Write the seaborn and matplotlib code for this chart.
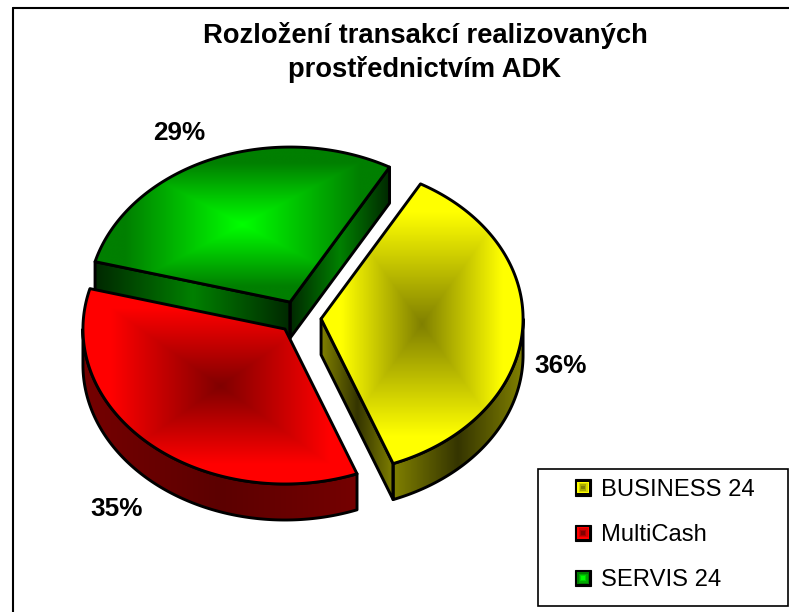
import numpy as np
import matplotlib
matplotlib.use("Agg")
import matplotlib.pyplot as plt
import seaborn as sns
from matplotlib.legend_handler import HandlerBase
from matplotlib.lines import Line2D
from matplotlib.patches import Polygon, Rectangle

# ---- data ----
categories = ["BUSINESS 24", "MultiCash", "SERVIS 24"]
shares = [36, 35, 29]
explode = [0.112, 0.10, 0.108]
title = "Rozložení transakcí realizovaných\nprostřednictvím ADK"

# ---- styles: (rim of top, centre of top, wall ends, wall middle) ----
top_edge = ["#ffff00", "#ff0000", "#007f00"]
top_mid = ["#808000", "#800000", "#00ff00"]
wall_end = ["#808000", "#750000", "#002800"]
wall_mid = ["#353500", "#5c0000", "#008000"]

W, H = 789, 612
CX, CY, RX, RY, DEPTH = 298.5, 317.5, 202.0, 155.0, 36.0

sns.set_theme(style="white")
plt.rcParams["font.family"] = ["Liberation Sans", "DejaVu Sans"]

fig = plt.figure(figsize=(W / 100, H / 100), dpi=100, facecolor="white")
ax = fig.add_axes([0, 0, 1, 1])
wedges, _ = ax.pie(shares, explode=explode, startangle=60.5, counterclock=False,
                   radius=1, center=(0, 0), colors=top_edge)
ax.set_aspect("auto")
xlim = (-CX / RX, (W - CX) / RX)
ylim = ((CY - H) / RY, CY / RY)
ax.set_xlim(xlim)
ax.set_ylim(ylim)
ax.axis("off")
d = DEPTH / RY


def px(x, y):
    return (x - CX) / RX, (CY - y) / RY


def arc_points(c, a, b, n=160):
    t = np.radians(np.linspace(a, b, n))
    return np.column_stack([c[0] + np.cos(t), c[1] + np.sin(t)])


def gradient(poly, img, cmap, z, clip_patch):
    x0, y0 = poly.min(axis=0)
    x1, y1 = poly.max(axis=0)
    im = ax.imshow(img, extent=(x0, x1, y0, y1), origin="lower", cmap=cmap,
                   vmin=0, vmax=1, aspect="auto", zorder=z, interpolation="bilinear")
    im.set_clip_path(clip_patch)


def rect_field(n=300):
    u = np.abs(np.linspace(-1, 1, n))
    return np.clip(np.maximum(u[None, :], u[:, None]) / 0.8, 0, 1)


def wall(points, i, z):
    poly = np.vstack([points, (points - [0, d])[::-1]])
    patch = Polygon(poly, closed=True, facecolor="none", edgecolor="black",
                    linewidth=2.1, joinstyle="round", zorder=z + 0.1)
    ax.add_patch(patch)
    cmap = sns.blend_palette([wall_mid[i], wall_end[i]], 64, as_cmap=True)
    u = np.abs(np.linspace(-1, 1, 300))[None, :]
    gradient(poly, u, cmap, z, patch)


for i in [2, 1, 0]:
    w = wedges[i]
    c = np.array(w.center)
    a, b = w.theta1, w.theta2
    z = {2: 2, 1: 5, 0: 8}[i]
    # straight cut walls: visible when their outward normal faces down
    for ang, normal in [(a, a - 90), (b, b + 90)]:
        if np.sin(np.radians(normal)) < 0:
            tip = c + [np.cos(np.radians(ang)), np.sin(np.radians(ang))]
            wall(np.array([c, tip]), i, z)
    # curved wall: the stretch of the rim on the lower half of the ellipse
    lows = [(max(a, k), min(b, k + 180)) for k in (-540, -180, 180)]
    for lo, hi in lows:
        if hi > lo:
            wall(arc_points(c, lo, hi), i, z)
    # top face
    arc = arc_points(c, a, b)
    outline = np.vstack([c, arc])
    top = Polygon(outline, closed=True, facecolor="none", edgecolor="black",
                  linewidth=2.1, joinstyle="round", zorder=z + 2.1)
    ax.add_patch(top)
    cmap = sns.blend_palette([top_mid[i], top_edge[i]], 64, as_cmap=True)
    gradient(outline, rect_field(), cmap, z + 2, top)
    w.set_visible(False)

# ---- percent labels ----
label_pos = [(561, 366), (117, 509), (179, 133)]
for v, (x, y) in zip(shares, label_pos):
    ax.text(*px(x, y), f"{v}%", fontsize=18.8, fontweight="bold", color="black",
            ha="center", va="center", zorder=20)

# ---- title ----
fig.text(425 / W, 1 - 52.5 / H, title, fontsize=19.7, fontweight="bold", color="black",
         ha="center", va="center", linespacing=1.38)

# ---- chart frame: only the top and left rules are in view ----
fig.add_artist(Line2D([13 / W, 13 / W], [0, 1 - 7.5 / H], color="black", lw=1.5))
fig.add_artist(Line2D([13 / W, 1], [1 - 7.5 / H, 1 - 7.5 / H], color="black", lw=1.5))

# ---- legend ----
fig.add_artist(Rectangle((537.5 / W, 1 - 606 / H), 250.5 / W, 137 / H, transform=fig.transFigure,
                         facecolor="white", edgecolor="black", lw=1.2, zorder=10))


class Swatch(HandlerBase):
    def __init__(self, i):
        super().__init__()
        self.i = i

    def create_artists(self, legend, orig, x0, y0, width, height, fontsize, trans):
        ramp = sns.blend_palette([top_edge[self.i], top_mid[self.i]], 4)
        side = width
        y = y0 + height / 2 - side / 2
        arts = [Rectangle((x0, y), side, side, facecolor="black", edgecolor="black",
                          lw=0.8, transform=trans)]
        inset = side * 0.14
        for col in ramp:
            s = side - 2 * inset
            arts.append(Rectangle((x0 + inset, y + inset), s, s, facecolor=col,
                                  edgecolor="none", transform=trans))
            inset += side * 0.08
        return arts


handles = [Rectangle((0, 0), 1, 1) for _ in categories]
leg = fig.legend(handles, categories, loc="upper left",
                 bbox_to_anchor=(575 / W, 1 - 478.5 / H), frameon=False, fontsize=17.1,
                 borderpad=0, borderaxespad=0, handlelength=0.68, handleheight=0.68,
                 handletextpad=0.42, labelspacing=0.98,
                 handler_map={h: Swatch(i) for i, h in enumerate(handles)})
leg.set_zorder(11)
for t in leg.get_texts():
    t.set_color("black")

fig.savefig("out.png", dpi=100, facecolor="white")
